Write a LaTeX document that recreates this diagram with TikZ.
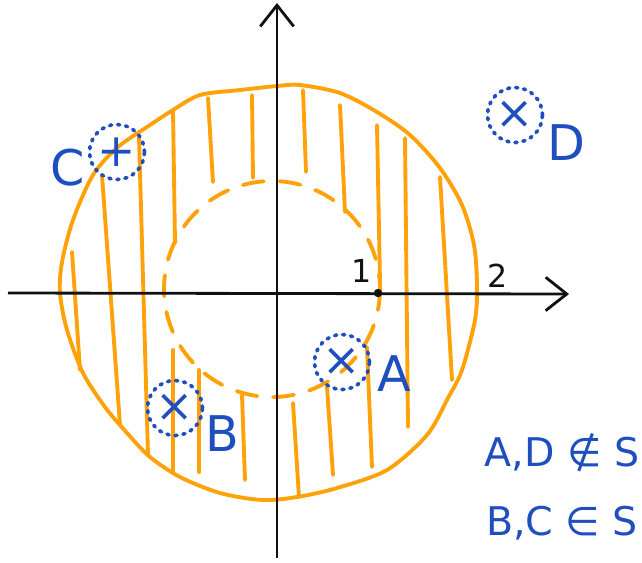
\documentclass[tikz,border=0pt]{standalone}
\usepackage{fontspec}
\setmainfont{DejaVu Sans}
\usetikzlibrary{arrows.meta}
\definecolor{ink}{HTML}{111111}
\definecolor{hatch}{HTML}{FFA20A}
\definecolor{pen}{HTML}{1F4FBF}
\tikzset{
  axis/.style={draw=ink, line width=1.6pt, -{Straight Barb[length=12pt,width=19pt,line width=1.6pt]}},
  rim/.style={draw=hatch, line width=2.2pt, line cap=round, line join=round},
  hatchline/.style={rim},
  innerrim/.style={rim, dash pattern=on 12pt off 9pt},
  ptmark/.style={circle, draw=pen, line width=2.1pt, dash pattern=on 1.2pt off 3.4pt, line cap=round, minimum size=1.1cm, inner sep=0pt, text=pen, font=\fontsize{26}{26}\selectfont},
  ptlabel/.style={text=pen, font=\fontsize{28}{30}\selectfont, inner sep=0pt},
  verdict/.style={text=pen, font=\fontsize{22.5}{26}\selectfont, inner sep=0pt},
  ticklabel/.style={text=ink, font=\fontsize{18}{18}\selectfont, inner sep=0pt}
}
\begin{document}
\begin{tikzpicture}[x={(0.02cm,0)}, y={(0,-0.02cm)}]
\useasboundingbox (0,0) rectangle (642,562);
% annulus: outer rim, inner dashed rim, hatching
\draw[rim] plot[smooth cycle] coordinates {(60,293) (62,262) (73,220) (93,175) (118,147) (150,125) (173,110) (200,95) (240,90) (277,86) (300,85) (340,93) (377,112) (410,135) (440,168) (462,205) (474,245) (477,285) (475,320) (462,370) (448,398) (427,435) (387,470) (337,488) (297,497) (262,500) (220,493) (180,477) (150,457) (127,433) (105,407) (83,373) (67,330)};
\draw[innerrim] (272,289) circle (108);
\foreach \xa/\ya/\xb/\yb in {72/252/80/370, 102/175/120/425, 139/137/148/455, 173/110/175/243, 173/350/173/473, 208/98/213/182, 199/370/199/472, 252/95/253/178, 242/395/245/480, 303/90/306/172, 293/403/299/497, 340/105/345/212, 327/387/333/475, 377/125/380/282, 367/347/372/467, 405/138/408/427, 440/177/452/380}
  \draw[hatchline] (\xa,\ya) -- (\xb,\yb);
% axes
\coordinate (xl) at (8,293);
\coordinate (xr) at (569,294);
\coordinate (yb) at (277,558);
\coordinate (yt) at (277,3);
\draw[axis] (xl) -- (xr);
\draw[axis] (yb) -- (yt);
% unit marks
\fill[ink] (378,293) circle (2.4pt);
\node[ticklabel] (one) at (362,271) {1};
\node[ticklabel] (two) at (498,276) {2};
% points
\node[ptmark] (A) at (342,362) {×};
\node[ptmark] (B) at (175,408) {×};
\node[ptmark] (C) at (117,152) {+};
\node[ptmark] (D) at (515,115) {×};
\node[ptlabel] (Alab) at (394,374) {A};
\node[ptlabel] (Blab) at (222,434) {B};
\node[ptlabel] (Clab) at (68,168) {C};
\node[ptlabel] (Dlab) at (566,143) {D};
% membership
\node[verdict] (out) at (562,453) {A,D ∉ S};
\node[verdict] (in) at (562,523) {B,C ∈ S};
\end{tikzpicture}
\end{document}
